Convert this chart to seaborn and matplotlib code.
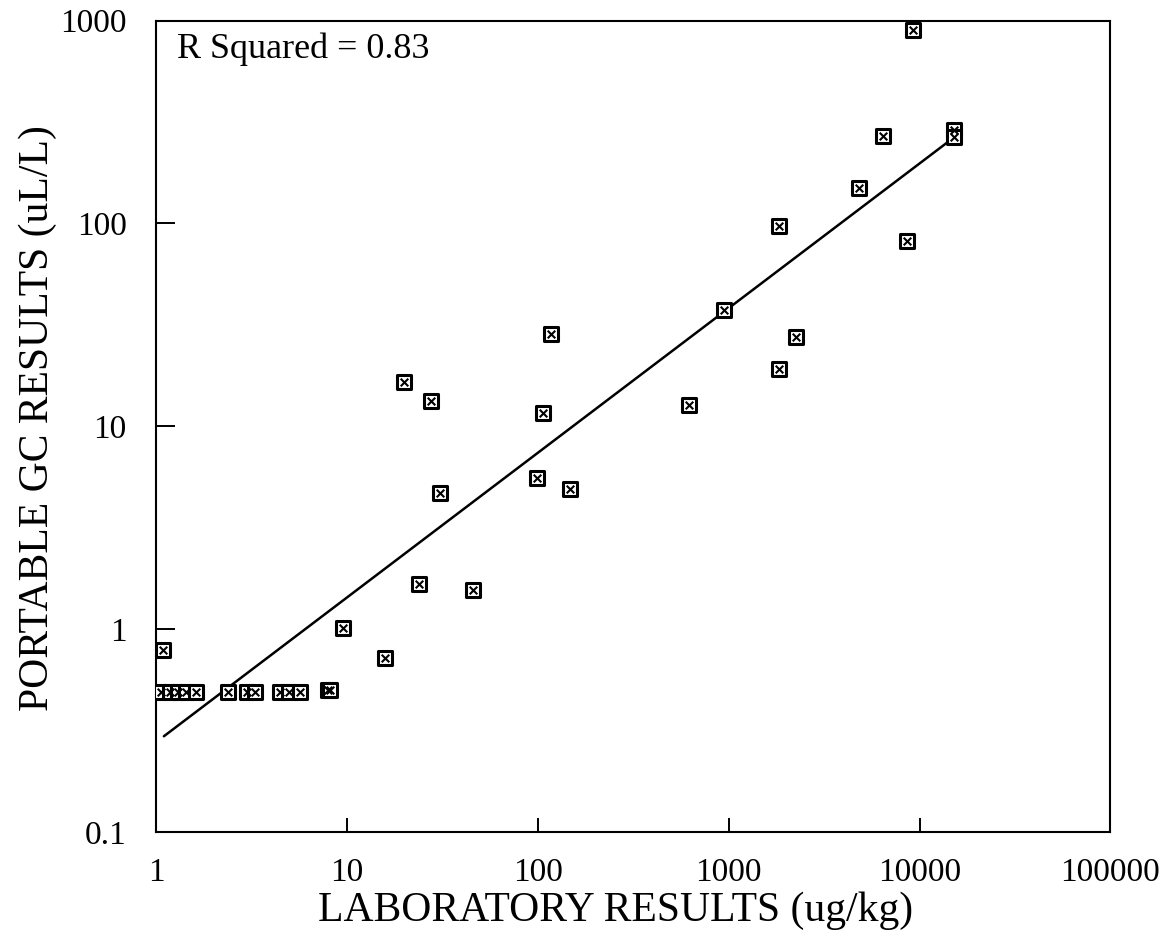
import matplotlib
matplotlib.use("Agg")
import matplotlib.pyplot as plt
import seaborn as sns
import pandas as pd
import numpy as np
from matplotlib.ticker import FixedLocator, FixedFormatter, NullLocator

# ---- data ----
lab_results = [1.09,
               1.06, 1.18, 1.30, 1.44, 1.62, 2.38, 3.0, 3.3, 4.46, 5.0, 5.7, 8.0, 8.2,
               9.6, 15.8, 19.9, 27.5, 30.7, 23.8, 45.7, 98.8, 107, 118, 147,
               617, 942, 1830, 1830, 2240, 4800, 6400, 8550, 9190, 15100, 15100]
gc_results = [0.79,
              0.49, 0.49, 0.49, 0.49, 0.49, 0.49, 0.49, 0.49, 0.49, 0.49, 0.49, 0.50, 0.50,
              1.02, 0.72, 16.5, 13.4, 4.68, 1.67, 1.57, 5.54, 11.6, 28.5, 4.9,
              12.7, 37.5, 19.2, 97, 27.5, 150, 270, 82, 900, 290, 268]

# regression line end points
fit_x = [1.10, 14700]
fit_y = [0.297, 260]

x_ticks = [1, 10, 100, 1000, 10000, 100000]
x_tick_labels = ["1", "10", "100", "1000", "10000", "100000"]
y_ticks = [0.1, 1, 10, 100, 1000]
y_tick_labels = ["0.1", "1", "10", "100", "1000"]

r_squared_text = "R Squared = 0.83"
x_label = "LABORATORY RESULTS (ug/kg)"
y_label = "PORTABLE GC RESULTS (uL/L)"

# ---- plotting ----
sns.set_theme(style="white")
plt.rcParams['font.family'] = ['Liberation Serif', 'DejaVu Serif']

df = pd.DataFrame({"lab": lab_results, "gc": gc_results})
fit_df = pd.DataFrame({"lab": fit_x, "gc": fit_y})

fig = plt.figure(figsize=(11.64, 9.34), dpi=100)
ax = fig.add_axes([0.134, 0.109, 0.820, 0.869])

ax.set_xscale("log")
ax.set_yscale("log")

sns.lineplot(data=fit_df, x="lab", y="gc", ax=ax, color="black", linewidth=1.8,
             estimator=None, sort=False)
sns.scatterplot(data=df, x="lab", y="gc", ax=ax, marker="s", s=95,
                facecolor="white", edgecolor="black", linewidth=2.2, zorder=3)
sns.scatterplot(data=df, x="lab", y="gc", ax=ax, marker="x", s=30,
                color="black", linewidth=1.5, zorder=4)

ax.set_xlim(1, 100000)
ax.set_ylim(0.1, 1000)

ax.xaxis.set_major_locator(FixedLocator(x_ticks))
ax.xaxis.set_major_formatter(FixedFormatter(x_tick_labels))
ax.yaxis.set_major_locator(FixedLocator(y_ticks))
ax.yaxis.set_major_formatter(FixedFormatter(y_tick_labels))
ax.xaxis.set_minor_locator(NullLocator())
ax.yaxis.set_minor_locator(NullLocator())

ax.tick_params(axis="x", which="major", direction="in", length=10, width=1.4,
               labelsize=24, pad=18, color="black", labelcolor="black",
               bottom=True, top=False)
ax.tick_params(axis="y", which="major", direction="in", length=14, width=1.4,
               labelsize=24, pad=21, color="black", labelcolor="black",
               left=True, right=False)

for sp in ax.spines.values():
    sp.set_visible(True)
    sp.set_color("black")
    sp.set_linewidth(1.5)

ax.set_xlabel(x_label, fontsize=30, color="black")
ax.set_ylabel(y_label, fontsize=30, color="black")
ax.xaxis.label.set_va("center")
ax.yaxis.label.set_va("center")
ax.xaxis.set_label_coords(0.482, -0.097)
ax.yaxis.set_label_coords(-0.124, 0.51)

ax.text(0.022, 0.954, r_squared_text, transform=ax.transAxes, fontsize=26,
        ha="left", va="baseline", color="black")

if ax.get_legend() is not None:
    ax.get_legend().remove()

fig.savefig("out.png", dpi=100, facecolor="white")
